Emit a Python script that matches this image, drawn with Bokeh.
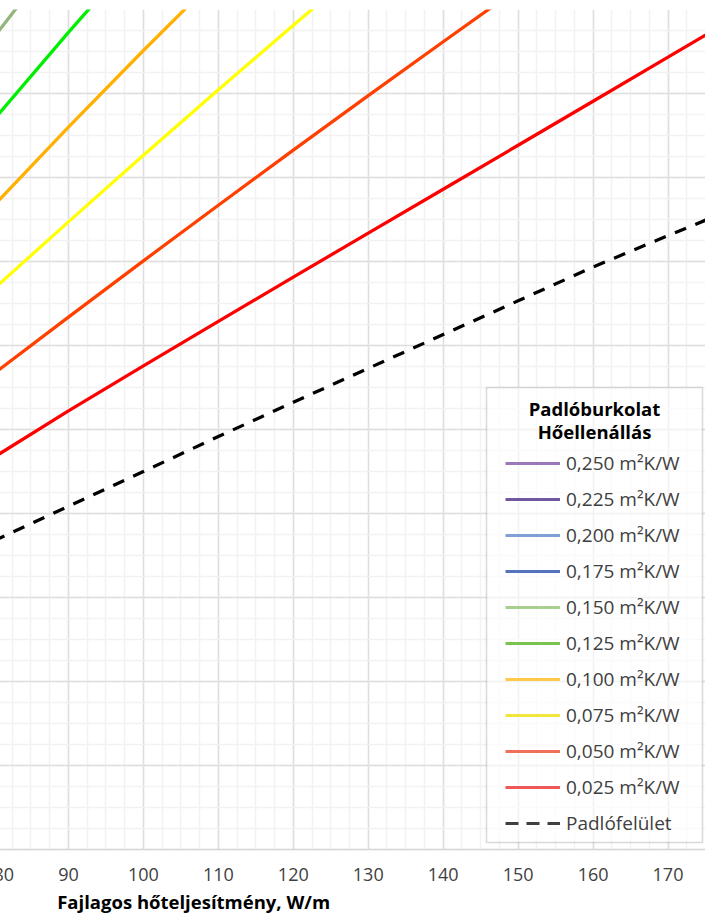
from bokeh.plotting import figure
from bokeh.models import (SingleIntervalTicker, Legend, LegendItem, Label, BoxAnnotation,
                          Title, Range1d, GlobalInlineStyleSheet)
from bokeh.embed import file_html
from bokeh.resources import INLINE

# ---- data ----
q = [80, 90, 100, 110, 120, 130, 140, 150, 160, 170, 180]          # W/m
padlofelulet = [38.36, 40.43, 42.50, 44.58, 46.62, 48.64, 50.65, 52.66, 54.67, 56.54, 58.38]
r_0025 = [43.33, 46.11, 48.79, 51.44, 54.07, 56.69, 59.30, 61.92, 64.54, 67.16, 69.79]
r_0050 = [48.31, 51.69, 55.04, 58.35, 61.63, 64.87, 68.08, 71.26, 74.40, 77.50, 80.60]
r_0075 = [53.35, 57.36, 61.32, 65.22, 69.06, 72.85, 76.60, 80.30, 84.00, 87.70, 91.40]
r_0100 = [58.31, 63.00, 67.56, 72.00, 76.35, 80.60, 84.80, 89.00, 93.10, 97.20, 101.30]
r_0125 = [63.42, 68.64, 73.70, 78.70, 83.60, 88.50, 93.30, 98.10, 102.80, 107.50, 112.20]
r_0150 = [68.31, 74.10, 79.80, 85.40, 90.90, 96.40, 101.80, 107.20, 112.50, 117.80, 123.00]

plot_series = [r_0025, r_0050, r_0075, r_0100, r_0125, r_0150]
plot_colors = ["#ff0000", "#ff4000", "#ffff00", "#ffb000", "#00ee00", "#92b57c"]

legend_labels = ["0,250 m²K/W", "0,225 m²K/W", "0,200 m²K/W", "0,175 m²K/W", "0,150 m²K/W",
                 "0,125 m²K/W", "0,100 m²K/W", "0,075 m²K/W", "0,050 m²K/W", "0,025 m²K/W",
                 "Padlófelület"]
legend_colors = ["#9b78b9", "#7058a0", "#7fa0d6", "#5673bd", "#a8cf8e",
                 "#7cc24f", "#ffc94a", "#f3e63a", "#f0705a", "#ee5858", "#404040"]

x_title = "Fajlagos hőteljesítmény, W/m"
legend_title = ["Padlóburkolat", "Hőellenállás"]

FONT = "Open Sans"
NAN = float("nan")

p = figure(frame_width=712, frame_height=840,
           x_range=Range1d(80, 175), y_range=Range1d(20, 70),
           output_backend="svg", toolbar_location=None, y_axis_location=None,
           min_border_left=0, min_border_right=0, min_border_top=9, min_border_bottom=0)
p.title.visible = False
p.outline_line_color = None
p.background_fill_color = "white"

p.xaxis.ticker = SingleIntervalTicker(interval=10, num_minor_ticks=4)
p.ygrid.ticker = SingleIntervalTicker(interval=5, num_minor_ticks=4)
p.grid.grid_line_color = "#dedede"
p.grid.grid_line_width = 1.5
p.grid.minor_grid_line_color = "#f2f2f2"
p.grid.minor_grid_line_width = 1.5

ax = p.xaxis[0]
ax.axis_line_color = "#d4d4d4"
ax.axis_line_width = 1.5
ax.major_tick_line_color = None
ax.minor_tick_line_color = None
ax.major_tick_out = 0
ax.major_label_standoff = 14
ax.major_label_text_font = FONT
ax.major_label_text_font_size = "18px"
ax.major_label_text_color = "#404040"

# data lines
for vals, col in zip(plot_series, plot_colors):
    p.line(q, vals, line_color=col, line_width=3.25)
p.line(q, padlofelulet, line_color="black", line_width=3.25, line_dash="12 10")

# legend box & title
box = BoxAnnotation(left=145.78, right=174.60, top=47.5, bottom=20.42,
                    fill_color="white", fill_alpha=0.6,
                    line_color="#808080", line_width=1.5)
p.add_layout(box)
for i, t in enumerate(legend_title):
    p.add_layout(Label(x=160.19, y=46.25 - i * 1.38, text=t, text_align="center",
                       text_baseline="alphabetic", text_font=FONT, text_font_size="18.5px",
                       text_font_style="bold", text_color="black"))

items = []
for lab, col in zip(legend_labels, legend_colors):
    dash = "13 8" if lab == "Padlófelület" else "solid"
    r = p.line(x=[NAN], y=[NAN], line_color=col, line_width=3, line_dash=dash)
    items.append(LegendItem(label=lab, renderers=[r]))

legend = Legend(items=items, location=(512, 13), orientation="vertical",
                padding=0, margin=0, spacing=10, glyph_width=55, glyph_height=26,
                label_height=26, label_standoff=6,
                label_text_font=FONT, label_text_font_size="19px", label_text_color="#404040",
                background_fill_alpha=0, border_line_color=None)
p.add_layout(legend)

p.add_layout(Title(text=x_title, align="left", offset=63.7, text_font=FONT,
                   text_font_size="18.5px", text_font_style="bold", text_color="black",
                   standoff=6), "below")

p.stylesheets = [GlobalInlineStyleSheet(css="html, body { margin: 0 !important; padding: 0 !important; overflow: hidden !important; }")]
p.styles = {"margin-left": "-7px"}

open("out.html", "w").write(file_html(p, INLINE))
